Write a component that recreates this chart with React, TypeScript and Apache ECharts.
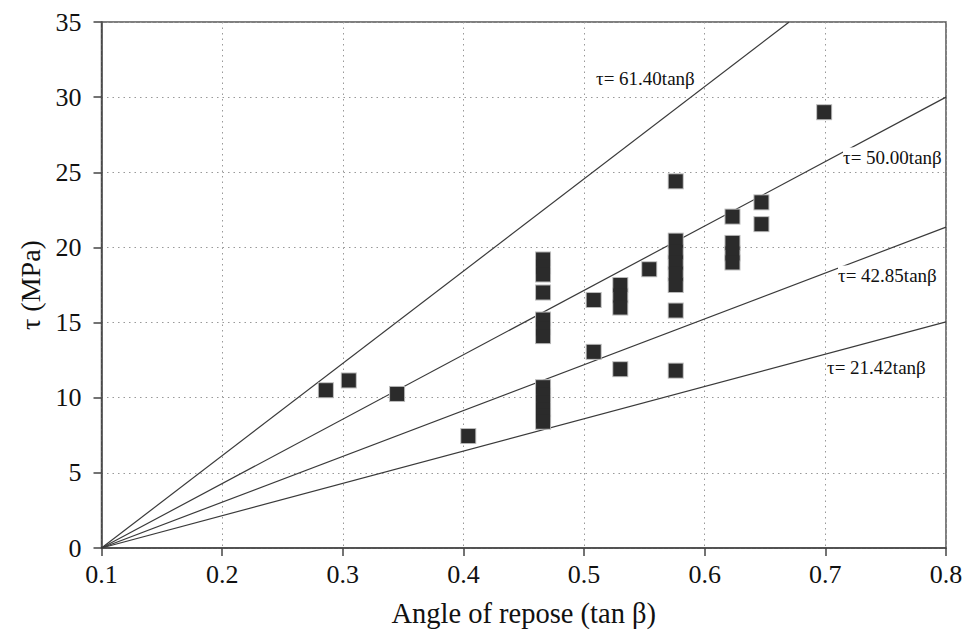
import React, { useEffect, useRef } from "react";
import * as echarts from "echarts";

// Measured points: [tan β, τ (MPa)]
const xs = [
  0.286, 0.305, 0.345, 0.404,
  0.466, 0.466, 0.466, 0.466, 0.466, 0.466, 0.466,
  0.466, 0.466, 0.466, 0.466, 0.466, 0.466,
  0.508, 0.508,
  0.530, 0.530, 0.530, 0.530,
  0.554,
  0.576, 0.576, 0.576, 0.576, 0.576, 0.576, 0.576, 0.576,
  0.623, 0.623, 0.623, 0.623,
  0.647, 0.647,
  0.699,
];
const ys = [
  10.5, 11.15, 10.25, 7.45,
  19.2, 18.7, 18.2, 17.0, 15.2, 14.6, 14.1,
  10.7, 10.2, 9.7, 9.2, 8.8, 8.4,
  16.5, 13.05,
  17.5, 16.8, 16.0, 11.9,
  18.55,
  24.4, 20.45, 19.7, 19.0, 18.25, 17.5, 15.8, 11.8,
  22.05, 20.3, 19.6, 19.0,
  23.0, 21.55,
  29.0,
];

// Reference lines through (0.1, 0)
const lineLabels = ["τ= 61.40tanβ", "τ= 50.00tanβ", "τ= 42.85tanβ", "τ= 21.42tanβ"];
const lineEndX = [0.67, 0.8, 0.8, 0.8];
const lineEndY = [35, 30, 21.35, 15.05];
const lineStartX = 0.1;
const lineStartY = 0;

const xTicks = ["0.1", "0.2", "0.3", "0.4", "0.5", "0.6", "0.7", "0.8"];

const FONT = "'Liberation Serif', 'DejaVu Serif', serif";

export default function App() {
  const ref = useRef<HTMLDivElement>(null);
  useEffect(() => {
    if (!ref.current) return;
    const chart = echarts.init(ref.current, null, { renderer: "svg" });
    const points = xs.map((x, i) => [x, ys[i]]);
    const lineSeries = lineLabels.map((name, i) => ({
      type: "line",
      name,
      data: [
        [lineStartX, lineStartY],
        [lineEndX[i], lineEndY[i]],
      ],
      symbol: "none",
      lineStyle: { color: "#3a3a3a", width: 1.2 },
      clip: true,
      z: 3,
    }));
    const labelPos = [
      [596, 78],
      [843, 157],
      [838, 275],
      [827, 367],
    ];
    chart.setOption({
      animation: false,
      backgroundColor: "#ffffff",
      grid: {
        left: 101.5,
        right: 28,
        top: 22,
        bottom: 85,
        show: true,
        borderColor: "#555",
        borderWidth: 1.5,
      },
      xAxis: {
        type: "value",
        min: 0.1,
        max: 0.8,
        interval: 0.1,
        name: "Angle of repose (tan β)",
        nameLocation: "middle",
        nameGap: 51,
        nameTextStyle: { fontFamily: FONT, fontSize: 28.5, color: "#111" },
        axisLine: { show: true, lineStyle: { color: "#444", width: 1.5 } },
        axisTick: { show: true, length: 8, inside: false, lineStyle: { color: "#444", width: 1.5 } },
        axisLabel: {
          fontFamily: FONT,
          fontSize: 26,
          color: "#111",
          margin: 13,
          formatter: (v: number) => xTicks[Math.round((v - 0.1) * 10)] ?? v.toFixed(1),
        },
        splitLine: { show: true, lineStyle: { color: "#999", type: [1.5, 4], width: 1 } },
      },
      yAxis: {
        type: "value",
        min: 0,
        max: 35,
        interval: 5,
        name: "τ (MPa)",
        nameLocation: "middle",
        nameGap: 52,
        nameRotate: 90,
        nameTextStyle: { fontFamily: FONT, fontSize: 28, color: "#111" },
        axisLine: { show: true, lineStyle: { color: "#444", width: 1.5 } },
        axisTick: { show: true, length: 8, inside: false, lineStyle: { color: "#444", width: 1.5 } },
        axisLabel: { fontFamily: FONT, fontSize: 26, color: "#111", margin: 20 },
        splitLine: { show: true, lineStyle: { color: "#999", type: [1.5, 4], width: 1 } },
      },
      series: [
        ...lineSeries,
        {
          type: "scatter",
          data: points,
          symbol: "rect",
          symbolSize: 16,
          itemStyle: { color: "#b8b8b8", opacity: 1 },
          z: 4,
          silent: true,
        },
        {
          type: "scatter",
          data: points,
          symbol: "rect",
          symbolSize: 14,
          itemStyle: { color: "#2b2b2b", opacity: 1 },
          z: 5,
        },
      ],
      graphic: lineLabels.map((t, i) => ({
        type: "text",
        x: labelPos[i][0],
        y: labelPos[i][1],
        z: 10,
        style: {
          text: t,
          fontFamily: FONT,
          fontSize: 19,
          fill: "#111",
          verticalAlign: "middle",
          backgroundColor: "#fff",
        },
      })),
    });
    return () => chart.dispose();
  }, []);
  return <div ref={ref} style={{ width: 974, height: 633, position: "absolute", left: 0, top: 0 }} />;
}
